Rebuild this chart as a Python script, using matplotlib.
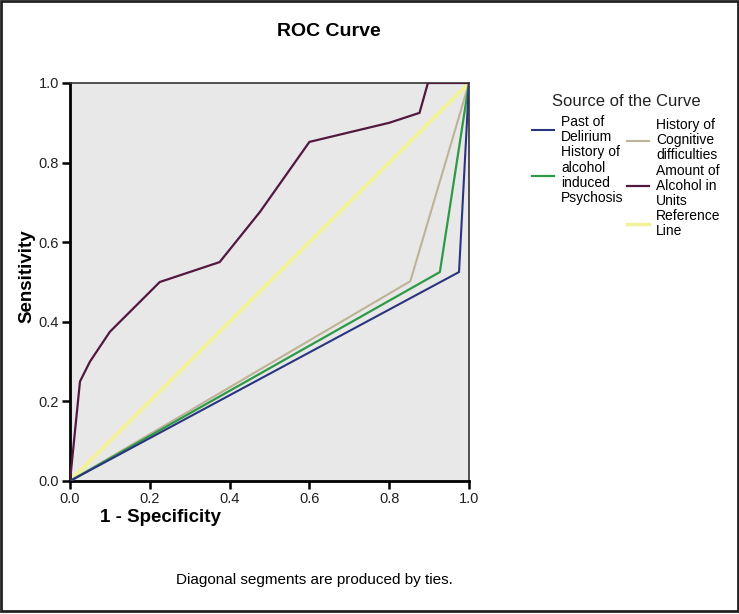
import matplotlib
matplotlib.use("Agg")
import matplotlib.pyplot as plt
from matplotlib.patches import Rectangle
from matplotlib.lines import Line2D

plt.rcParams['font.family'] = ['Liberation Sans', 'DejaVu Sans']

# Data
past_delirium_x = [0.0, 0.975, 1.0]
past_delirium_y = [0.0, 0.525, 1.0]
alcohol_psychosis_x = [0.0, 0.927, 1.0]
alcohol_psychosis_y = [0.0, 0.525, 1.0]
cognitive_x = [0.0, 0.853, 1.0]
cognitive_y = [0.0, 0.502, 1.0]
amount_x = [0.0, 0.025, 0.05, 0.10, 0.225, 0.375, 0.476, 0.60, 0.80, 0.876, 0.897, 1.0]
amount_y = [0.0, 0.25, 0.30, 0.375, 0.50, 0.55, 0.676, 0.852, 0.90, 0.925, 1.0, 1.0]
reference_x = [0.0, 1.0]
reference_y = [0.0, 1.0]
ticks = [0.0, 0.2, 0.4, 0.6, 0.8, 1.0]
tick_labels = ["0.0", "0.2", "0.4", "0.6", "0.8", "1.0"]

fig = plt.figure(figsize=(7.39, 6.14), dpi=100)
fig.patch.set_facecolor('white')
ax = fig.add_axes([70/739, 1-481/614, 399/739, 398/614])
ax.set_facecolor('#e8e8e8')

c_blue = '#2a3580'
c_green = '#2e9a48'
c_tan = '#bdb497'
c_purple = '#52183f'
c_yellow = '#f2f29c'

ax.plot(reference_x, reference_y, color=c_yellow, lw=3.0, zorder=2)
ax.plot(cognitive_x, cognitive_y, color=c_tan, lw=1.5, zorder=3)
ax.plot(alcohol_psychosis_x, alcohol_psychosis_y, color=c_green, lw=1.6, zorder=4)
ax.plot(past_delirium_x, past_delirium_y, color=c_blue, lw=1.5, zorder=5)
ax.plot(amount_x, amount_y, color=c_purple, lw=1.6, zorder=6)

ax.set_xlim(0, 1)
ax.set_ylim(0, 1)
ax.set_xticks(ticks)
ax.set_xticklabels(tick_labels)
ax.set_yticks(ticks)
ax.set_yticklabels(tick_labels)
ax.tick_params(direction='out', length=6, width=1.8, labelsize=10.5, colors='black', pad=2)
for lbl in ax.get_xticklabels() + ax.get_yticklabels():
    lbl.set_color('#222222')
for s in ['left', 'bottom']:
    ax.spines[s].set_linewidth(2.0)
for s in ['top', 'right']:
    ax.spines[s].set_linewidth(1.2)
    ax.spines[s].set_color('#333333')

fig.text(329/739, 1-32/614, "ROC Curve", ha='center', va='center', fontsize=14, fontweight='bold')
fig.text(160/739, 1-517/614, "1 - Specificity", ha='center', va='center', fontsize=13.5, fontweight='bold')
fig.text(27/739, 1-276/614, "Sensitivity", ha='center', va='center', rotation=90, fontsize=13.5, fontweight='bold')
fig.text(314/739, 1-580/614, "Diagonal segments are produced by ties.", ha='center', va='center', fontsize=11)

# Legend
fig.text(626/739, 1-101/614, "Source of the Curve", ha='center', va='center', fontsize=12, color='#222222')
h_blue = Line2D([], [], color=c_blue, lw=1.5)
h_green = Line2D([], [], color=c_green, lw=1.6)
h_tan = Line2D([], [], color=c_tan, lw=1.5)
h_purple = Line2D([], [], color=c_purple, lw=1.6)
h_yellow = Line2D([], [], color=c_yellow, lw=2.5)
leg_kw = dict(frameon=False, fontsize=10, handlelength=1.6, handletextpad=0.5,
              labelspacing=0.1, borderaxespad=0, borderpad=0)
leg1 = fig.legend([h_blue, h_green], ["Past of\nDelirium", "History of\nalcohol\ninduced\nPsychosis"],
                  loc='upper left', bbox_to_anchor=(532/739, 1-115/614), **leg_kw)
for t in leg1.get_texts():
    t.set_linespacing(1.1)
leg2 = fig.legend([h_tan, h_purple, h_yellow],
                  ["History of\nCognitive\ndifficulties", "Amount of\nAlcohol in\nUnits", "Reference\nLine"],
                  loc='upper left', bbox_to_anchor=(627/739, 1-118/614), **leg_kw)
for t in leg2.get_texts():
    t.set_linespacing(1.1)

fig.patches.append(Rectangle((0.002, 0.005), 0.996, 0.993, transform=fig.transFigure,
                             fill=False, edgecolor='#222222', lw=2.0))

fig.savefig("out.png", dpi=100, facecolor='white')
